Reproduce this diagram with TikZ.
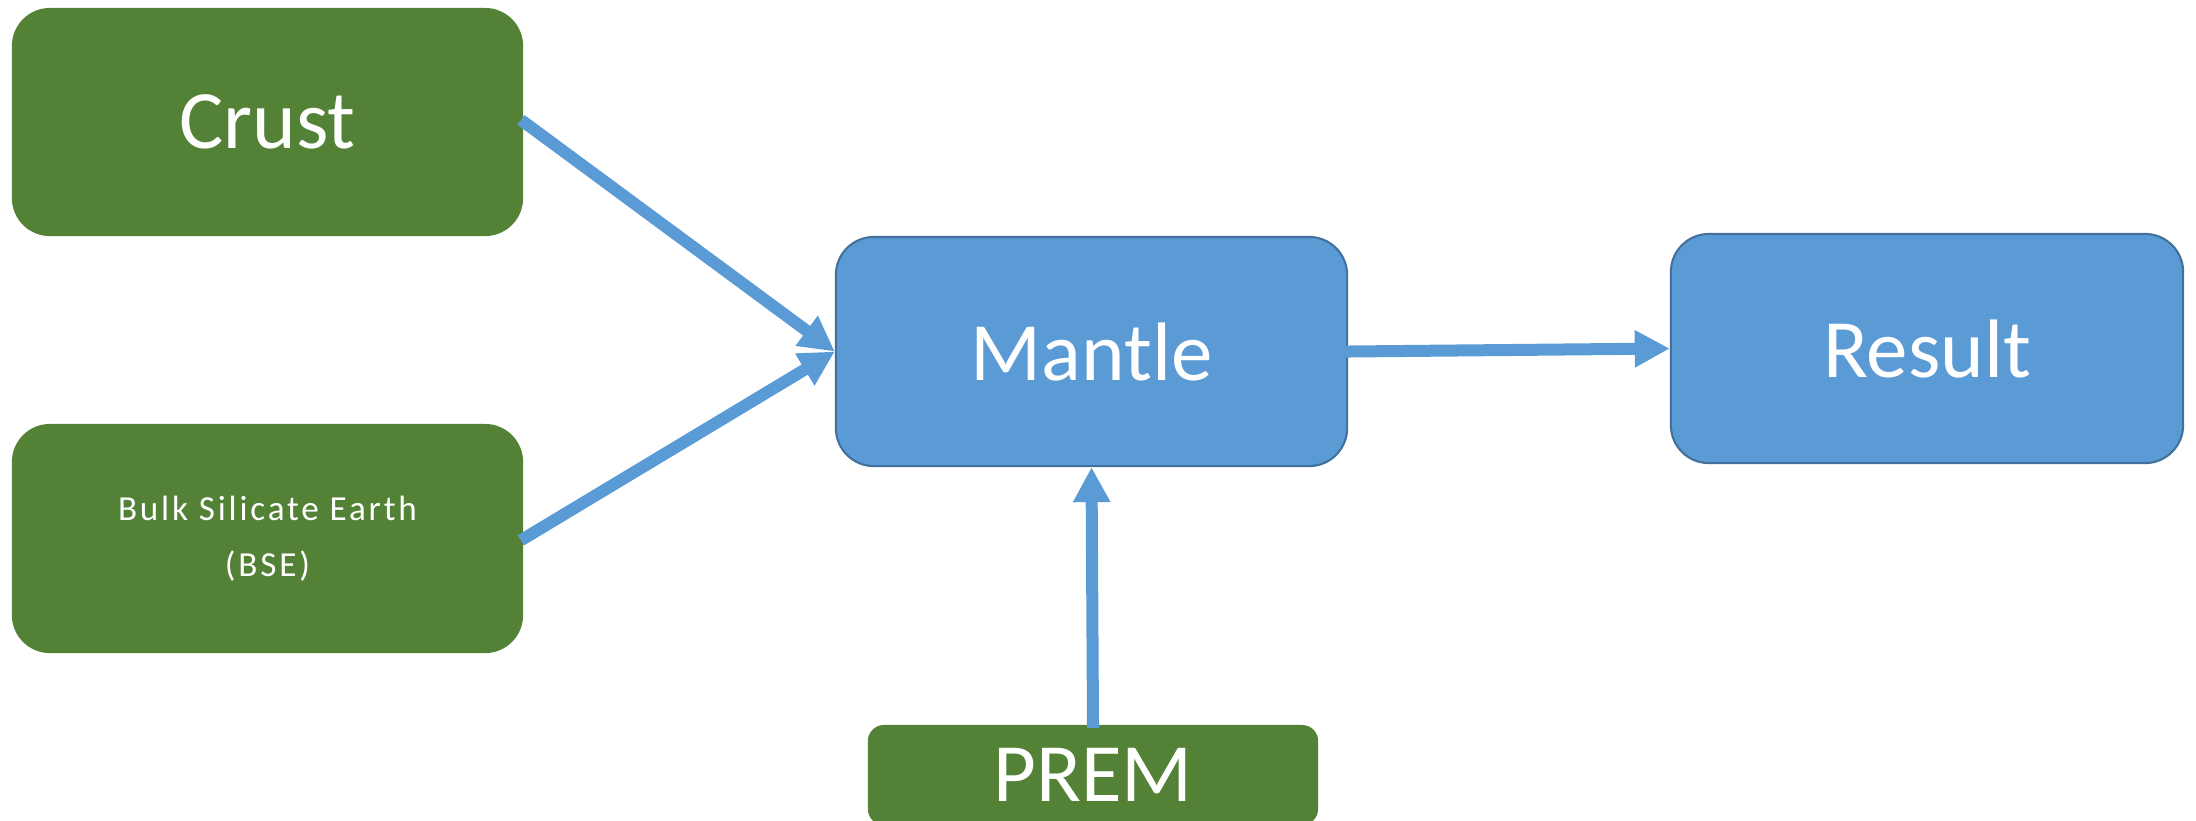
\documentclass[tikz,border=0pt]{standalone}
\usepackage{fontspec}
\setmainfont{Carlito}
\newfontfamily\bsefont[LetterSpace=8]{Carlito}
\usetikzlibrary{arrows.meta}
\definecolor{boxgreen}{HTML}{538135}
\definecolor{boxblue}{HTML}{5B9BD5}
\definecolor{bluedge}{HTML}{41719C}
\tikzset{
  greenbox/.style={rectangle, rounded corners=0.38cm, fill=boxgreen, draw=none,
    text=white, inner sep=0pt, align=center},
  bluebox/.style={rectangle, rounded corners=0.38cm, fill=boxblue, draw=bluedge,
    line width=0.6pt, text=white, inner sep=0pt, align=center},
  bigtext/.style={font=\fontsize{23.6}{28}\selectfont},
  conn/.style={draw=boxblue, line width=0.12cm,
    -{Triangle[length=0.35cm, width=0.35cm]}, shorten <=-1pt}
}
\begin{document}
\begin{tikzpicture}[x=0.01cm, y=-0.01cm]
\useasboundingbox (0,0) rectangle (2196,820);
\node[greenbox, bigtext, minimum width=5.11cm, minimum height=2.28cm] (crust) at (267.5,122) {Crust};
\node[greenbox, minimum width=5.11cm, minimum height=2.29cm,
  font=\bsefont\fontsize{10}{16}\selectfont] (bse) at (267.5,538.5) {Bulk Silicate Earth\\(BSE)};
\node[bluebox, bigtext, minimum width=5.11cm, minimum height=2.29cm] (mantle) at (1091.5,351.5) {Mantle};
\node[bluebox, bigtext, minimum width=5.12cm, minimum height=2.29cm] (result) at (1927,348.5) {Result};
\node[greenbox, bigtext, rounded corners=0.16cm, minimum width=4.5cm, minimum height=1.0cm] (prem) at (1093,775) {PREM};
\draw[conn] (crust.east) -- (mantle.west);
\draw[conn] (bse.east) -- (mantle.west);
\draw[conn] (mantle.east) -- (result.west);
\draw[conn] (prem.north) -- (mantle.south);
\end{tikzpicture}
\end{document}
